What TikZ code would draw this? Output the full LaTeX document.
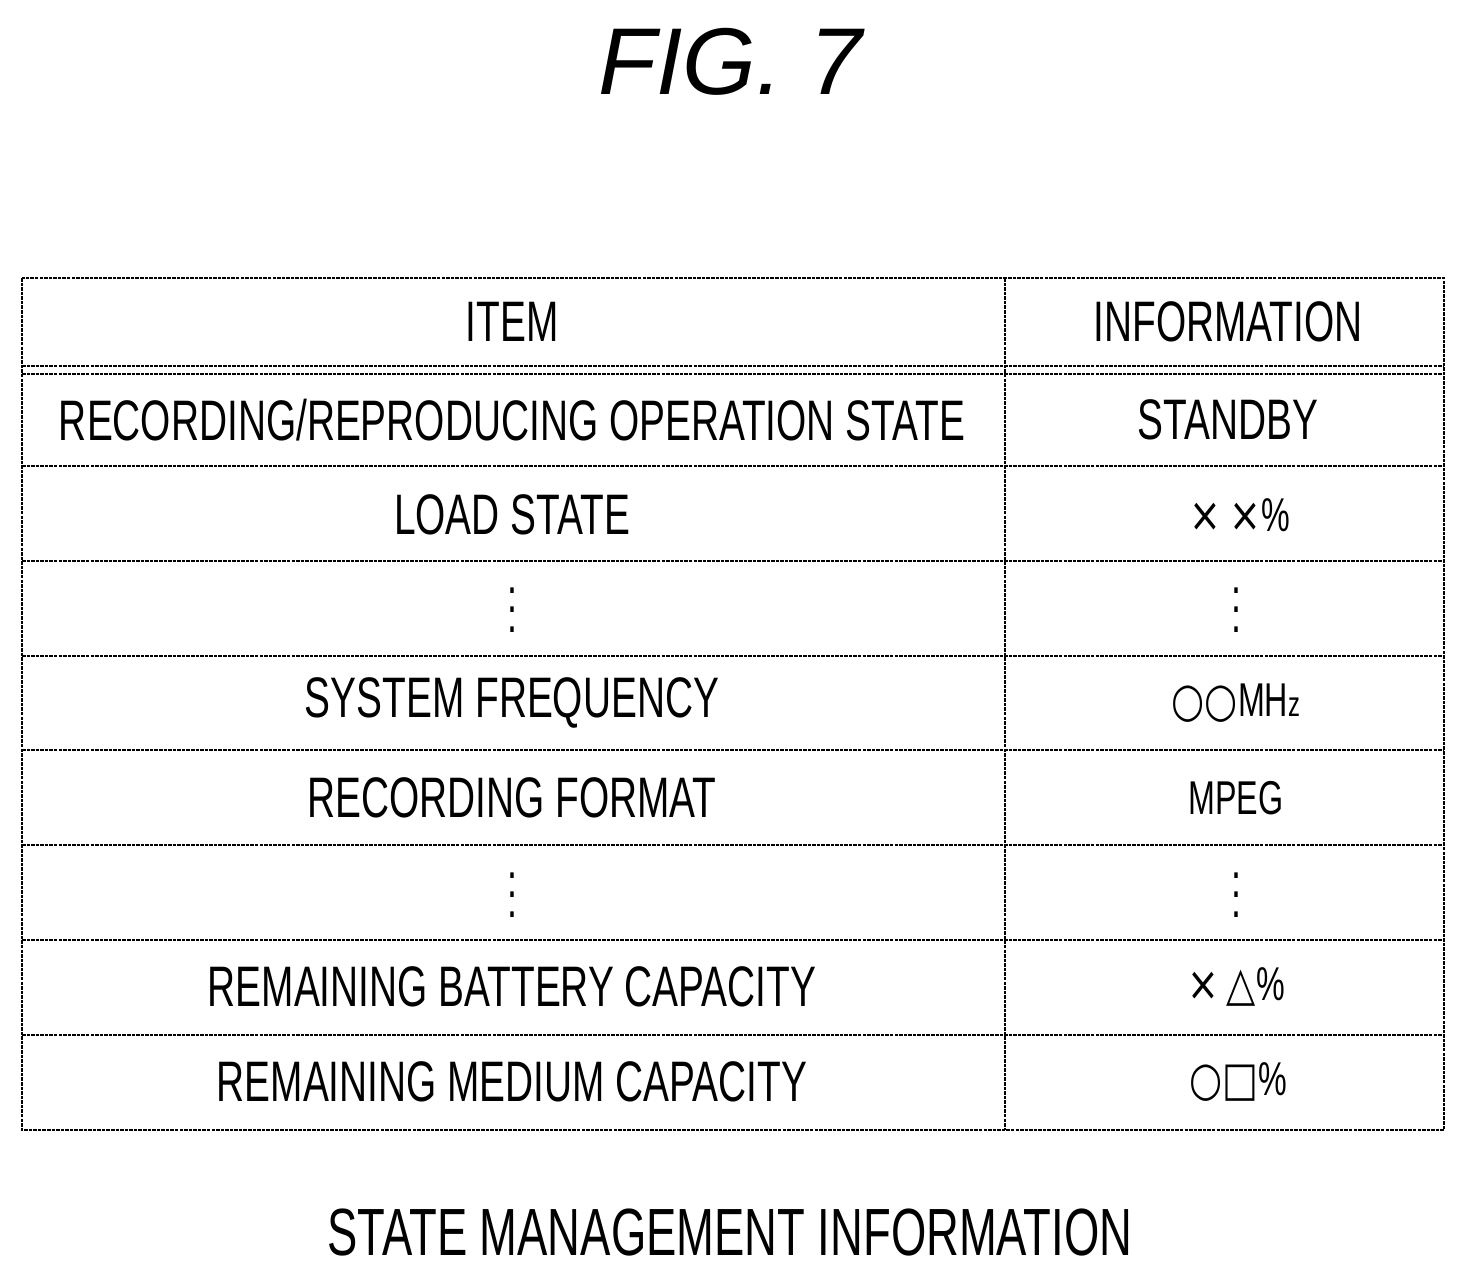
\documentclass[tikz,border=0pt]{standalone}
\usepackage{fontspec}
\setmainfont[FakeStretch=0.68]{Liberation Sans}
\newfontfamily\symfont[FakeStretch=0.8]{DejaVu Sans}
\newfontfamily\titlefont{Liberation Sans}
\usetikzlibrary{positioning}
\tikzset{
    grid line/.style={line width=1pt, dash pattern=on 2pt off 0.6pt},
    cell/.style={font=\fontsize{32.5}{36}\selectfont, inner sep=0pt},
    small cell/.style={font=\fontsize{27}{30}\selectfont, inner sep=0pt},
    dots cell/.style={font=\fontsize{30}{11}\selectfont, inner sep=0pt, align=center}
}

\begin{document}
\begin{tikzpicture}[x=0.02cm,y=-0.02cm]
\useasboundingbox (0,0) rectangle (1466,1272);

\node[font=\titlefont\itshape\fontsize{54}{64}\selectfont] (fig) at (730,62) {FIG. 7};

% table frame
\draw[grid line] (22,278) rectangle (1444,1130);
\draw[grid line] (1005,278) -- (1005,1130);
\draw[grid line] (22,366) -- (1444,366);
\draw[grid line] (22,374) -- (1444,374);
\foreach \y in {466,561,656,750,845,940,1035}
    \draw[grid line] (22,\y) -- (1444,\y);

% header
\node[cell] (item) at (512,322) {ITEM};
\node[cell] (info) at (1228,322) {INFORMATION};

% rows
\node[cell] (rec) at (512,420) {RECORDING/REPRODUCING OPERATION STATE};
\node[cell] (recv) at (1228,420) {STANDBY};
\node[cell] (load) at (512,515) {LOAD STATE};
\node[small cell] (loadv) at (1240,515) {{\symfont ×\,×}\%};
\node[dots cell] (dotsa) at (512,610) {.\\.\\.};
\node[dots cell] (dotsav) at (1236,610) {.\\.\\.};
\node[cell] (freq) at (512,703) {SYSTEM FREQUENCY};
\node[small cell] (freqv) at (1236,703) {{\symfont ○○}MH{\fontsize{20}{22}\selectfont z}};
\node[cell] (fmt) at (512,798) {RECORDING FORMAT};
\node[small cell] (fmtv) at (1236,798) {MPEG};
\node[dots cell] (dotsb) at (512,895) {.\\.\\.};
\node[dots cell] (dotsbv) at (1236,895) {.\\.\\.};
\node[cell] (batt) at (512,987) {REMAINING BATTERY CAPACITY};
\node[small cell] (battv) at (1236,987) {{\symfont ×\,△}\%};
\node[cell] (med) at (512,1082) {REMAINING MEDIUM CAPACITY};
\node[small cell] (medv) at (1238,1082) {{\symfont ○□}\%};

\node[font=\fontsize{38}{44}\selectfont] (caption) at (730,1232) {STATE MANAGEMENT INFORMATION};
\end{tikzpicture}
\end{document}
